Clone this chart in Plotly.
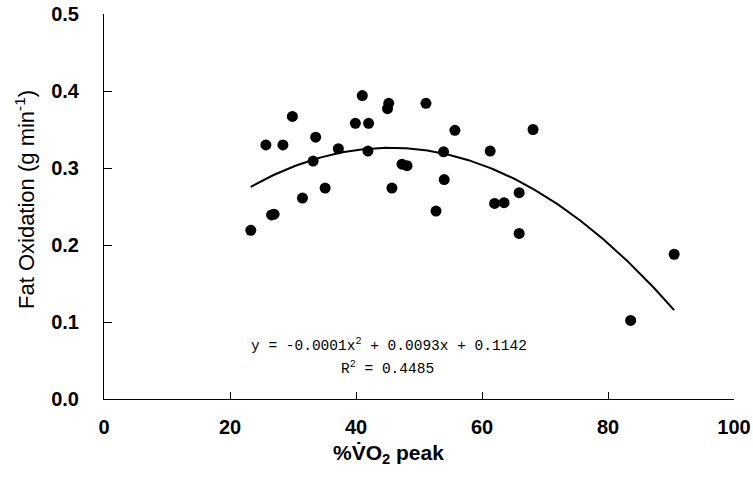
import numpy as np
import plotly.graph_objects as go

# %VO2 peak and fat oxidation rate (g/min) for each subject
vo2_pct = [23.3, 25.7, 26.6, 27.0, 28.4, 29.9, 31.5, 33.2, 33.6, 35.1, 37.2,
           39.9, 41.0, 41.9, 42.0, 45.0, 45.2, 45.7, 47.3, 48.1, 51.1, 52.7,
           53.9, 54.0, 55.7, 61.3, 62.0, 63.5, 65.9, 65.9, 68.1, 83.6, 90.5]
fat_ox = [0.219, 0.330, 0.239, 0.240, 0.330, 0.367, 0.261, 0.309, 0.340, 0.274, 0.325,
          0.358, 0.394, 0.322, 0.358, 0.377, 0.384, 0.274, 0.305, 0.303, 0.384, 0.244,
          0.321, 0.285, 0.349, 0.322, 0.254, 0.255, 0.268, 0.215, 0.350, 0.102, 0.188]

x_ticks = [0, 20, 40, 60, 80, 100]
y_ticks = [0.0, 0.1, 0.2, 0.3, 0.4, 0.5]

# second-order polynomial trendline over the observed range
coef = np.polyfit(vo2_pct, fat_ox, 2)
xs = np.linspace(min(vo2_pct), max(vo2_pct), 200)
ys = np.polyval(coef, xs)

fig = go.Figure()
fig.add_trace(go.Scatter(x=xs, y=ys, mode="lines",
                         line=dict(color="black", width=2), hoverinfo="skip"))
fig.add_trace(go.Scatter(x=vo2_pct, y=fat_ox, mode="markers",
                         marker=dict(color="black", size=11)))

sans = "Liberation Sans, Arial, sans-serif"
tick_font = dict(family=sans, size=20, color="black", weight="bold")

fig.update_layout(
    width=753, height=484,
    margin=dict(l=104, r=19, t=14, b=85),
    plot_bgcolor="white", paper_bgcolor="white",
    showlegend=False,
    xaxis=dict(range=[0, 100], tickvals=x_ticks, ticks="inside", ticklen=7,
               tickcolor="black", showline=True, linecolor="black", linewidth=1,
               showgrid=False, zeroline=False, tickfont=tick_font,
               ticklabelstandoff=10, automargin=False),
    yaxis=dict(range=[0, 0.5], tickvals=y_ticks, tickformat=".1f", ticks="inside",
               ticklen=8, tickcolor="black", showline=True, linecolor="black",
               linewidth=1, showgrid=False, zeroline=False, tickfont=tick_font,
               ticklabelstandoff=20, automargin=False),
)

fig.add_annotation(
    text="Fat Oxidation (g min<sup>-1</sup>)", textangle=-90,
    xref="paper", yref="paper", x=(25 - 104) / 630, y=(399 - 200) / 385,
    showarrow=False, xanchor="center", yanchor="middle",
    font=dict(family=sans, size=22, color="black"))

fig.add_annotation(
    text="<b>%V\u0307O<sub>2</sub> peak</b>",
    xref="paper", yref="paper", x=(388 - 104) / 630, y=-(454 - 399) / 385,
    showarrow=False, xanchor="center", yanchor="middle",
    font=dict(family=sans, size=21, color="black"))

eq_font = dict(family="Liberation Mono, DejaVu Sans Mono, monospace", size=14.5, color="black")
fig.add_annotation(
    text="y = -0.0001x<sup>2</sup> + 0.0093x + 0.1142",
    xref="paper", yref="paper", x=(389 - 104) / 630, y=(399 - 345) / 385,
    showarrow=False, xanchor="center", yanchor="middle", font=eq_font)
fig.add_annotation(
    text="R<sup>2</sup> = 0.4485",
    xref="paper", yref="paper", x=(387 - 104) / 630, y=(399 - 368) / 385,
    showarrow=False, xanchor="center", yanchor="middle", font=eq_font)

fig.write_html("out.html")
